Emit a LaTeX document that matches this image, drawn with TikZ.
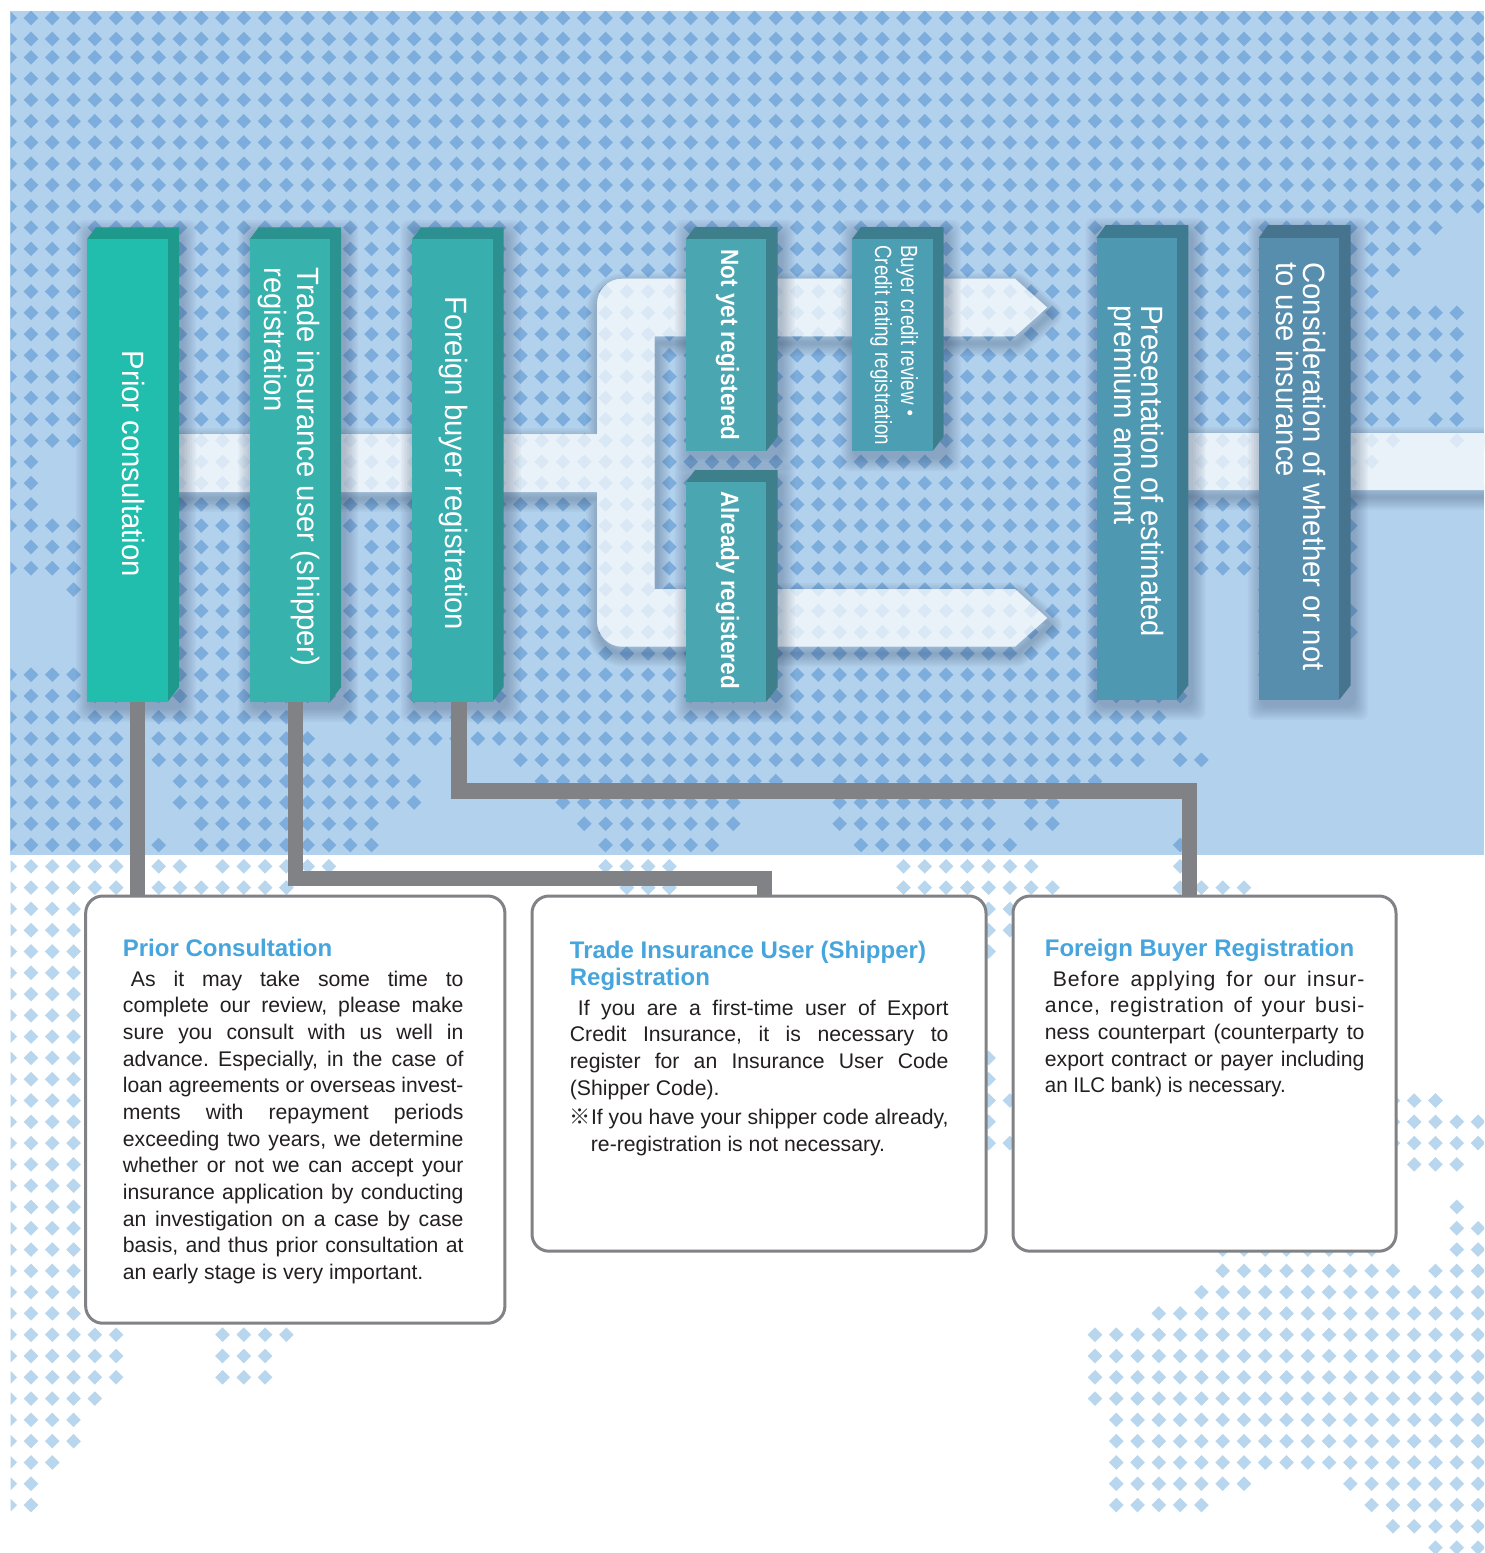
\documentclass[tikz,border=0pt]{standalone}
\usepackage{fontspec}
\setmainfont{Liberation Sans}
\newfontfamily\cjkf{Noto Sans CJK JP}
\newfontfamily\condr[FakeStretch=.95]{Liberation Sans}
\newfontfamily\condb[FakeStretch=.9]{Liberation Sans}
\newfontfamily\condc[FakeStretch=.8]{Liberation Sans}
\frenchspacing
\definecolor{skybg}{HTML}{B2D1ED}
\definecolor{dotdark}{HTML}{7DADDC}
\definecolor{dotlight}{HTML}{B8D6EE}
\definecolor{shadowc}{HTML}{2A4060}
\definecolor{conngray}{HTML}{808285}
\definecolor{titleblue}{HTML}{45A5DC}
\definecolor{bodyink}{HTML}{231F20}
\definecolor{faceA}{HTML}{21BEAD}\definecolor{sideA}{HTML}{1E9A8D}
\definecolor{faceB}{HTML}{37B2AD}\definecolor{sideB}{HTML}{2A928F}
\definecolor{faceC}{HTML}{39AEAE}\definecolor{sideC}{HTML}{2C8F90}
\definecolor{faceD}{HTML}{4AA6B0}\definecolor{sideD}{HTML}{3D808C}
\definecolor{faceE}{HTML}{4C9EB3}\definecolor{sideE}{HTML}{3D7E8E}
\definecolor{faceF}{HTML}{4F98B2}\definecolor{sideF}{HTML}{3E7B90}
\definecolor{faceG}{HTML}{578EAE}\definecolor{sideG}{HTML}{46738E}
\newlength\jltmp
\newcommand\jl[2]{\settowidth\jltmp{#2}\ifdim\jltmp>#1\relax\resizebox{#1}{\height}{#2}\else\makebox[#1][s]{#2}\fi}
\newcommand\dotat[3]{\foreach \aa/\bb in {#3}{\foreach \ii in {\aa,...,\bb}{\fill[#2] ({31+21.28*\ii},#1) +(-7.3,0)--+(0,-7.3)--+(7.3,0)--+(0,7.3)--cycle;}}}
\newcommand\rw[2]{\pgfmathsetmacro\yy{57.3+21.29*#1}\ifnum#1<38 \dotat{\yy}{dotdark}{#2}\else\dotat{\yy}{dotlight}{#2}\fi}
\newcommand\softsh[4]{\foreach \k in {1,...,9}{\fill[shadowc,opacity=.036,rounded corners=4pt] ({#1-1.6*\k+3},{#2-1.6*\k+7}) rectangle ({#3+1.6*\k+3},{#4+1.6*\k+6});}}
% name, x1, x2, xright, ytop, yfront, ybottom, face, side
\newcommand\prism[9]{%
  \softsh{#2}{#5}{#4}{#7}
  \fill[#9] (#2,#6) -- ({#2+9},#5) -- (#4,#5) -- (#4,{#7-14.5}) -- (#3,#7) -- cycle;
  \node[frontface,fill=#8,minimum width={(#3-#2)*0.5pt},minimum height={(#7-#6)*0.5pt}] (#1) at ({(#2+#3)/2},{(#6+#7)/2}) {};
}
\tikzset{
  frontface/.style={rectangle,inner sep=0pt,outer sep=0pt,draw=none},
  infobox/.style={rectangle,rounded corners=8.5pt,draw=conngray,line width=1.5pt,fill=white,inner sep=0pt,outer sep=0pt},
  conn/.style={draw=conngray,line width=7.7pt},
  rottext/.style={rotate=-90,anchor=base west,inner sep=0pt,text=white},
  titletext/.style={anchor=base west,inner sep=0pt,text=titleblue,font=\fontsize{12}{13.4}\selectfont\bfseries},
  bodytext/.style={anchor=base west,inner sep=0pt,text=bodyink,font=\fontsize{10.6}{13.33}\selectfont},
  bandp/.style={insert path={(170,434) -- (597,434) -- (597,304) .. controls (597,290) and (608,278.7) .. (622,278.7) -- (1015,278.7) -- (1047.3,307.5) -- (1015,336.3) -- (654.7,336.3) -- (654.7,589) -- (1015,589) -- (1047.3,618) -- (1015,646.7) -- (622,646.7) .. controls (608,646.7) and (597,635) .. (597,621) -- (597,492) -- (170,492) -- cycle (1177,433) -- (1500,433) -- (1500,490) -- (1177,490) -- cycle}}
}
\begin{document}
\begin{tikzpicture}[x=0.5pt,y=-0.5pt]
\useasboundingbox (0,0) rectangle (1484,1553);
\fill[white] (0,0) rectangle (1484,1553);
\fill[skybg] (10,11) rectangle (1484,855);
\begin{scope}
\clip (10.5,0) rectangle (1484,1553);
\dotat{18}{dotdark}{-1/68}
\dotat{39}{dotdark}{-1/68}
\foreach \j in {0,...,7}{\rw{\j}{-1/68}}
\rw{8}{-1/66}\rw{9}{-1/65}\rw{10}{-1/64}\rw{11}{-1/63}
\rw{12}{-1/67}\rw{13}{-1/67}\rw{14}{-1/67}
\rw{15}{-1/65,67/67}\rw{16}{-1/65,67/67}\rw{17}{-1/64,66/67}
\rw{18}{-1/64,67/67}\rw{19}{-1/0,3/63}\rw{20}{-1/0,3/62}\rw{21}{-1/0,3/62}
\rw{22}{-1/62}\rw{23}{0/14,16/62}\rw{24}{-1/14,16/62}
\rw{25}{2/54,58/61}\rw{26}{3/54,58/62}\rw{27}{3/54,58/62}\rw{28}{3/54,58/61}
\rw{29}{-1/54,58/61}\rw{30}{-1/54}
\rw{31}{-1/12,15/53}\rw{32}{-1/13,17/54}\rw{33}{-1/17,23/52,54/55}
\rw{34}{-1/4,7/18,24/35,38/50}\rw{35}{-1/4,7/18,25/33,38/45,47/48}
\rw{36}{-1/4,8/16,26/33,38/45,47/48}\rw{37}{-1/4,6/6,8/16,27/32,39/46,54/54}
\rw{38}{-1/4,6/7,9/14,27/30,41/47,54/54}\rw{39}{-1/4,6/12,28/30,41/48,54/57}
\rw{40}{-1/2,45/46}\rw{41}{-1/2,45/46}\rw{42}{-1/2,45/45}
\rw{43}{-1/2}\rw{44}{-1/2}\rw{45}{-1/2}\rw{46}{-1/2}
\rw{47}{-1/2,45/45}\rw{48}{-1/2,45/45}\rw{49}{-1/2,45/46,64/66}
\rw{50}{-1/2,45/45,64/68}\rw{51}{-1/2,45/46,64/68}\rw{52}{-1/2,65/67}\rw{53}{-1/2}
\rw{54}{-1/2,67/67}\rw{55}{-1/2,67/68}\rw{56}{-1/2,56/63,67/68}\rw{57}{-1/2,56/64,66/68}
\rw{58}{-1/2,55/68}\rw{59}{-1/2,53/68}\rw{60}{-1/4,9/12,50/68}\rw{61}{-1/4,9/11,50/68}
\rw{62}{-1/4,9/11,50/68}\rw{63}{-1/3,50/68}\rw{64}{-1/2,51/68}\rw{65}{-1/2,51/68}
\rw{66}{-1/1,51/68}\rw{67}{-1/0,51/57,62/68}\rw{68}{-1/0,51/55,63/68}\rw{69}{64/68}\rw{70}{66/68}
\end{scope}
% band shadow, outside the band only
\begin{scope}[even odd rule]
\clip[bandp] (0,0) rectangle (1484,1553);
\foreach \k in {1,...,8}{\path[draw=shadowc,opacity=.04,line width=\k*1.6pt,line join=round,shift={(2,7)},bandp];}
\end{scope}
\path[fill=white,fill opacity=.72,bandp];
% prisms
\prism{n1}{87}{167.7}{179}{227.3}{239.3}{701.7}{faceA}{sideA}
\prism{n2}{249.7}{330}{341}{227.3}{239.3}{701.7}{faceB}{sideB}
\prism{n3}{412}{492.5}{503.5}{227.3}{239.3}{701.7}{faceC}{sideC}
\prism{n4}{686}{766.3}{777.7}{227}{239}{451}{faceD}{sideD}
\prism{n5}{686}{766.3}{777.7}{470}{482.3}{701.7}{faceD}{sideD}
\prism{n6}{852}{932.7}{943.7}{227}{239}{451}{faceE}{sideE}
\prism{n7}{1096.7}{1177}{1188.3}{225}{237.7}{699.7}{faceF}{sideF}
\prism{n8}{1259}{1339.3}{1350.7}{225}{237.7}{699.7}{faceG}{sideG}
% prism labels
\node[rottext,font=\condr\fontsize{15.4}{16}\selectfont] (t1) at (122,350.5) {Prior consultation};
\node[rottext,font=\condr\fontsize{15.4}{16.4}\selectfont] (t2) at (297.5,267) {\parbox[t]{230pt}{Trade insurance user (shipper)\\registration}};
\node[rottext,font=\condr\fontsize{15.4}{16}\selectfont] (t3) at (445,296.5) {Foreign buyer registration};
\node[rottext,font=\condb\bfseries\fontsize{12.5}{14}\selectfont] (t4) at (721,249) {Not yet registered};
\node[rottext,font=\condb\bfseries\fontsize{12.5}{14}\selectfont] (t5) at (721,491) {Already registered};
\node[rottext,font=\condc\fontsize{11.7}{13}\selectfont] (t6) at (901,245) {\parbox[t]{110pt}{Buyer credit review\hspace{-1.5pt}{\cjkf ・}\\Credit rating registration}};
\node[rottext,font=\condr\fontsize{15.4}{13.3}\selectfont] (t7) at (1141,305) {\parbox[t]{230pt}{Presentation of estimated\\premium amount}};
\node[rottext,font=\condr\fontsize{15.4}{13.1}\selectfont] (t8) at (1303,262) {\parbox[t]{230pt}{Consideration of whether or not\\to use insurance}};
% info boxes
\node[infobox,minimum width=209.6pt,minimum height=213.6pt] (info1) at (295.3,1109.6) {};
\node[infobox,minimum width=227pt,minimum height=177.6pt] (info2) at (759,1073.6) {};
\node[infobox,minimum width=191.5pt,minimum height=177.6pt] (info3) at (1204.5,1073.6) {};
\node[titletext] (head1) at (122.5,956.5) {Prior Consultation};
\node[bodytext] (text1) at (122.5,986.3) {\parbox[t]{172pt}{%
\jl{170.3pt}{\hspace*{4pt}As it may take some time to}\\
\jl{170.3pt}{complete our review, please make}\\
\jl{170.3pt}{sure you consult with us well in}\\
\jl{170.3pt}{advance. Especially, in the case of}\\
\jl{170.3pt}{loan agreements or overseas invest-}\\
\jl{170.3pt}{ments with repayment periods}\\
\jl{170.3pt}{exceeding two years, we determine}\\
\jl{170.3pt}{whether or not we can accept your}\\
\jl{170.3pt}{insurance application by conducting}\\
\jl{170.3pt}{an investigation on a case by case}\\
\jl{170.3pt}{basis, and thus prior consultation at}\\
an early stage is very important.}};
\node[titletext] (head2) at (569.5,958.5) {\parbox[t]{205pt}{Trade Insurance User (Shipper)\\Registration}};
\node[bodytext] (text2) at (569.5,1015.3) {\parbox[t]{195pt}{%
\jl{189.3pt}{\hspace*{4pt}If you are a first-time user of Export}\\
\jl{189.3pt}{Credit Insurance, it is necessary to}\\
\jl{189.3pt}{register for an Insurance User Code}\\
(Shipper Code).\\[1.2pt]
\jl{189.3pt}{{\cjkf ※}If you have your shipper code already,}\\
\hspace*{10.5pt}re-registration is not necessary.}};
\node[titletext] (head3) at (1044.5,956.5) {Foreign Buyer Registration};
\node[bodytext] (text3) at (1044.5,986.3) {\parbox[t]{165pt}{%
\jl{159.8pt}{\addfontfeatures{LetterSpace=4}\hspace*{4pt}Before applying for our insur-}\\
\jl{159.8pt}{\addfontfeatures{LetterSpace=4}ance, registration of your busi-}\\
\jl{159.8pt}{ness counterpart (counterparty to}\\
\jl{159.8pt}{export contract or payer including}\\
\resizebox{120.5pt}{\height}{an ILC bank) is necessary.}}};
% connectors
\coordinate (c1) at (137.7,800);
\coordinate (c2) at (295.5,878.5);
\coordinate (c2b) at (764.5,878.5);
\coordinate (c3) at (459,791);
\coordinate (c3b) at (1189.5,791);
\draw[conn] (c1 |- n1.south) -- (c1 |- info1.north);
\draw[conn] (c2 |- n2.south) -- (c2) -- (c2b) -- (c2b |- info2.north);
\draw[conn] (c3 |- n3.south) -- (c3) -- (c3b) -- (c3b |- info3.north);
\end{tikzpicture}
\end{document}
